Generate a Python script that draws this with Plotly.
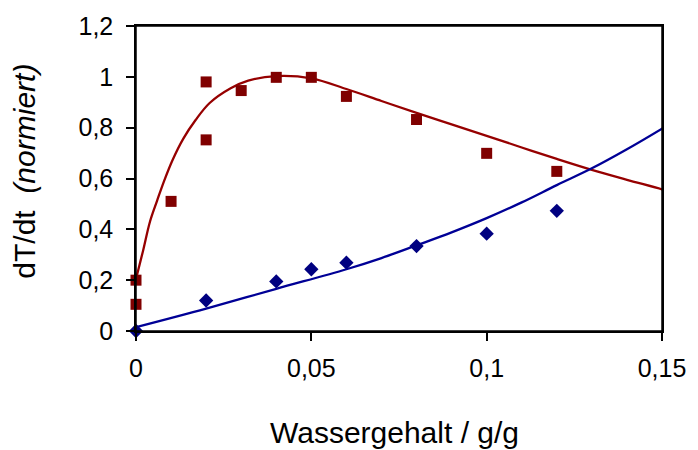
import plotly.graph_objects as go

# measured data (red squares)
red_x = [0, 0, 0.01, 0.02, 0.02, 0.03, 0.04, 0.05, 0.06, 0.08, 0.10, 0.12]
red_y = [0.20, 0.105, 0.51, 0.98, 0.752, 0.946, 0.998, 0.998, 0.923, 0.832, 0.699, 0.628]

# measured data (blue diamonds)
blue_x = [0, 0.02, 0.04, 0.05, 0.06, 0.08, 0.10, 0.12]
blue_y = [0.0, 0.12, 0.195, 0.243, 0.269, 0.334, 0.383, 0.473]

# fitted curves
red_fit_x = [0, 0.002, 0.004, 0.006, 0.008, 0.0105, 0.0135, 0.017, 0.021, 0.027, 0.032,
             0.04, 0.05, 0.06, 0.07, 0.08, 0.09, 0.10, 0.11, 0.12, 0.13, 0.14, 0.15, 0.152]
red_fit_y = [0.205, 0.315, 0.431, 0.512, 0.59, 0.675, 0.757, 0.83, 0.897, 0.955, 0.985,
             1.003, 0.994, 0.952, 0.905, 0.858, 0.813, 0.768, 0.722, 0.677, 0.634, 0.595, 0.557, 0.548]

blue_fit_x = [0, 0.02, 0.04, 0.06, 0.07, 0.08, 0.09, 0.10, 0.11, 0.12, 0.13, 0.14, 0.15, 0.152]
blue_fit_y = [0.015, 0.088, 0.166, 0.243, 0.287, 0.337, 0.388, 0.444, 0.506, 0.574, 0.64, 0.715, 0.796, 0.813]

x_ticks = [0, 0.05, 0.1, 0.15]
y_ticks = [0, 0.2, 0.4, 0.6, 0.8, 1.0, 1.2]

RED = "#800000"
BLUE = "#000080"
FONT = "Liberation Sans, Arial, sans-serif"

fig = go.Figure()
fig.add_trace(go.Scatter(x=red_fit_x, y=red_fit_y, mode="lines", line_shape="spline",
                         line=dict(color="#960000", width=2.3), hoverinfo="skip"))
fig.add_trace(go.Scatter(x=blue_fit_x, y=blue_fit_y, mode="lines", line_shape="spline",
                         line=dict(color="#000096", width=2.3), hoverinfo="skip"))
fig.add_trace(go.Scatter(x=red_x, y=red_y, mode="markers", cliponaxis=False,
                         marker=dict(symbol="square", size=11, color=RED, line=dict(width=0))))
fig.add_trace(go.Scatter(x=blue_x, y=blue_y, mode="markers", cliponaxis=False,
                         marker=dict(symbol="diamond", size=11, color=BLUE, line=dict(width=0))))

axis_common = dict(showline=True, linecolor="black", linewidth=1.5, mirror=True,
                   ticks="outside", ticklen=8, tickwidth=1.5, tickcolor="black",
                   showgrid=False, zeroline=False, ticklabeloverflow="allow",
                   tickfont=dict(family=FONT, size=25, color="black"))

fig.update_xaxes(range=[0, 0.15], tickvals=x_ticks, ticklabelstandoff=6, **axis_common)
fig.update_yaxes(range=[0, 1.2], tickvals=y_ticks, ticklabelstandoff=8, **axis_common)

# frame around the plot area
fig.add_shape(type="rect", xref="paper", yref="paper", x0=0, y0=0, x1=1, y1=1,
              line=dict(color="black", width=1.5), layer="above")

fig.add_annotation(text="Wassergehalt / g/g", xref="paper", yref="paper",
                   x=0.4915, y=-0.333, xanchor="center", yanchor="middle", showarrow=False,
                   font=dict(family=FONT, size=30, color="black"))
fig.add_annotation(text="dT/dt\u00a0\u00a0<i>(normiert)</i>", xref="paper", yref="paper",
                   x=-0.212, y=0.524, xanchor="center", yanchor="middle", showarrow=False,
                   textangle=-90, font=dict(family=FONT, size=30, color="black"))

fig.update_layout(width=698, height=450, margin=dict(l=136, r=33, t=22, b=119),
                  paper_bgcolor="white", plot_bgcolor="white", showlegend=False,
                  separators=",.", font=dict(family=FONT))

# remove the default 8px page margin so the figure sits at (0,0)
fig.write_html("out.html", config={"displayModeBar": False},
               post_script="document.body.style.margin='0';document.body.style.overflow='hidden';")
